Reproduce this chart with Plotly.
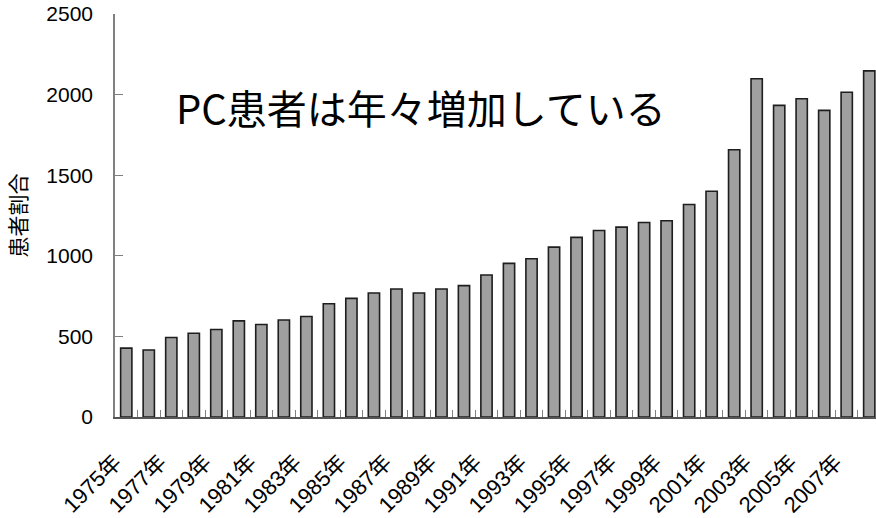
import plotly.graph_objects as go

# Yearly patient counts, 1975-2008
years = list(range(1975, 2009))
patients = [427, 416, 493, 520, 543, 596, 574, 602, 623, 703,
            736, 769, 794, 769, 794, 815, 881, 953, 982, 1054,
            1114, 1157, 1178, 1207, 1217, 1318, 1400, 1658, 2098, 1933,
            1974, 1902, 2015, 2147]
year_labels = [f"{y}年" for y in years]

y_title = "患者割合"
headline = "PC患者は年々増加している"

idx = list(range(len(years)))
label_idx = idx[::2]

fig = go.Figure()
fig.add_trace(go.Bar(
    x=idx,
    y=patients,
    width=0.5,
    marker=dict(color="#a0a0a0", line=dict(color="#1e1e1e", width=1.6)),
    hovertext=year_labels,
))

fig.add_annotation(
    text=headline, xref="paper", yref="paper",
    x=0.402, y=0.77, xanchor="center", yanchor="middle",
    showarrow=False,
    font=dict(family="Noto Sans CJK JP", size=40, color="#000000"),
)

fig.update_layout(
    width=876, height=518,
    margin=dict(l=115, r=0, t=14, b=99),
    plot_bgcolor="white", paper_bgcolor="white",
    showlegend=False,
    font=dict(family="Liberation Sans, Noto Sans CJK JP", size=21, color="#000000"),
    xaxis=dict(
        range=[-0.5, 33.3],
        tickmode="array",
        tickvals=[i - 0.5 for i in label_idx],
        ticktext=[year_labels[i] for i in label_idx],
        tickangle=-45,
        ticks="inside", ticklen=7, tickcolor="#808080", tickwidth=1,
        minor=dict(ticks="inside", ticklen=7, tickcolor="#808080", tickwidth=1,
                   tickmode="linear", tick0=-0.5, dtick=1),
        ticklabelstandoff=22,
        showline=True, linecolor="#555555", linewidth=1.5,
        showgrid=False, zeroline=False,
        tickfont=dict(family="Liberation Sans, Noto Sans CJK JP", size=22),
    ),
    yaxis=dict(
        range=[0, 2500],
        tickmode="array",
        tickvals=[0, 500, 1000, 1500, 2000, 2500],
        ticks="inside", ticklen=8, tickcolor="#808080", tickwidth=1,
        showline=True, linecolor="#808080", linewidth=1.5,
        showgrid=False, zeroline=False,
        ticklabelstandoff=16,
        title=dict(text=y_title, standoff=14,
                   font=dict(family="Noto Sans CJK JP", size=21)),
        tickfont=dict(family="Liberation Sans", size=21),
    ),
)

fig.write_html("out.html")
